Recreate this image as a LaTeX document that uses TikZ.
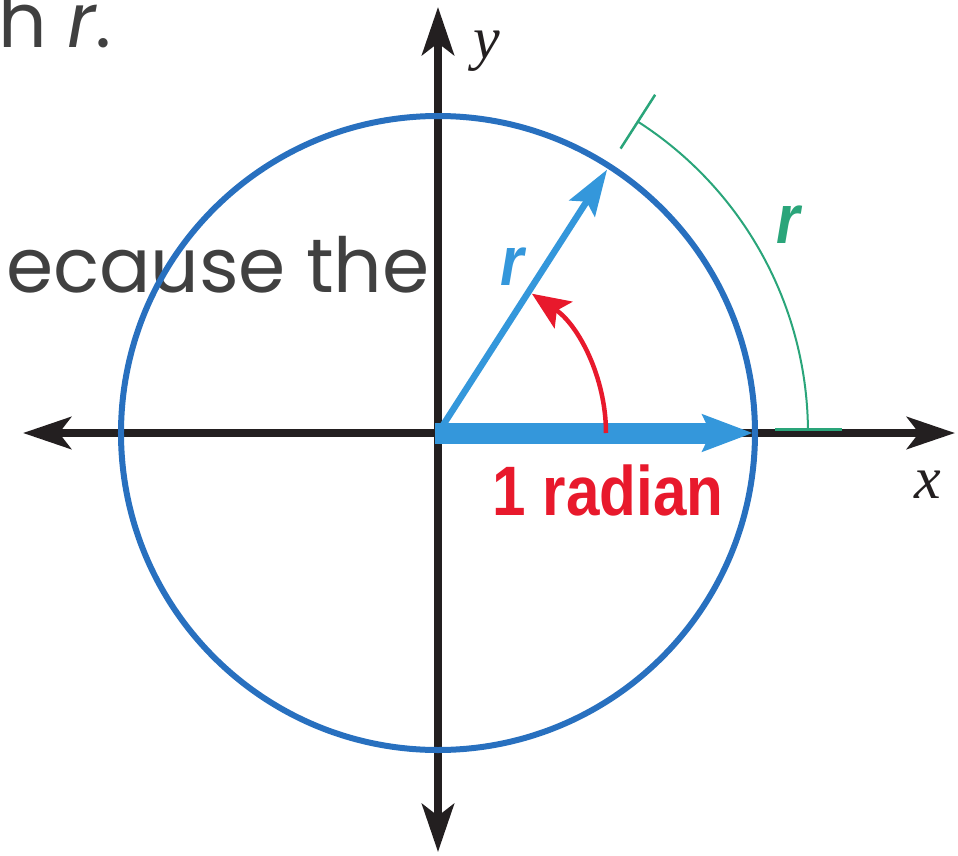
\documentclass[tikz,border=0pt]{standalone}
\usepackage{fontspec}
\usetikzlibrary{arrows.meta}

\newfontfamily\slidefont{Poppins}
\newfontfamily\labelfont[FakeStretch=0.86]{Liberation Sans}
\newfontfamily\axisfont{Liberation Serif}

\definecolor{circblue}{HTML}{2870BF}
\definecolor{rayblue}{HTML}{3497DB}
\definecolor{angred}{HTML}{E8192C}
\definecolor{arcgreen}{HTML}{2AA57A}
\definecolor{axisblack}{HTML}{231F20}
\definecolor{slidegray}{HTML}{404040}

\newcommand*{\rad}{317}
\newcommand*{\ang}{57.3}
\newcommand*{\xmin}{-415}
\newcommand*{\xmax}{517}
\newcommand*{\ymin}{-419}
\newcommand*{\ymax}{426}

\begin{document}
\begin{tikzpicture}
[
	x=1pt,y=1pt,
	axis/.style={line width=8pt,axisblack,{Stealth[length=48pt,width=32pt,inset=12pt]}-{Stealth[length=48pt,width=32pt,inset=12pt]}},
	ray/.style={rayblue,-{Stealth[length=46pt,width=30pt,inset=8pt]}},
	slidetext/.style={slidegray,inner sep=0pt,font=\slidefont\fontsize{76}{90}\selectfont},
	rlabel/.style={inner sep=0pt,font=\labelfont\bfseries\itshape\fontsize{70}{84}\selectfont},
	axislabel/.style={axisblack,inner sep=0pt,font=\axisfont\itshape\fontsize{60}{72}\selectfont}
]
	\useasboundingbox (-438,-422) rectangle (520,433);

	% text of the slide behind
	\node[slidetext,anchor=base east] (line1) at (-326,385) {h \textit{r}.};
	\node[slidetext,anchor=base east] (line2) at (-8,141) {ecause the};

	% axes
	\coordinate (O) at (0,0);
	\coordinate (xl) at (\xmin,0);
	\coordinate (xr) at (\xmax,0);
	\coordinate (yb) at (0,\ymin);
	\coordinate (yt) at (0,\ymax);
	\draw[axis] (xl) -- (xr);
	\draw[axis] (yb) -- (yt);
	\node[axislabel] (xlab) at (490,-52) {x};
	\node[axislabel] (ylab) at (49,382) {y};

	% radius on the x-axis and the turned radius
	\coordinate (O2) at (-3,0);
	\coordinate (A) at (315,0);
	\coordinate (P) at (\ang:313);
	\draw[ray,line width=21pt,-{Stealth[length=50pt,width=36pt,inset=8pt]}] (O2) -- (A);
	\draw[ray,line width=6.5pt] (O) -- (P);
	\node[rlabel,rayblue] (r1) at (74,166) {r};

	% circle
	\draw[circblue,line width=6pt] (O) circle (\rad);

	% angle of 1 radian
	\coordinate (a0) at (168,0);
	\draw[angred,line width=4.5pt,-{Stealth[length=38pt,width=32pt,inset=8pt]}] (a0) arc (0:56:168);
	\node[angred,inner sep=0pt,anchor=base,font=\labelfont\bfseries\fontsize{70}{84}\selectfont] (radlab) at (170,-82) {1 radian};

	% arc of length r
	\coordinate (g0) at (0.8:370);
	\coordinate (t1) at (\ang:338);
	\coordinate (t2) at (\ang:402);
	\coordinate (b1) at (337,4);
	\coordinate (b2) at (404,4);
	\draw[arcgreen,line width=2pt] (g0) arc (0.8:\ang:370);
	\draw[arcgreen,line width=2.5pt] (t1) -- (t2);
	\draw[arcgreen,line width=3pt] (b1) -- (b2);
	\node[rlabel,arcgreen] (r2) at (350,208) {r};

\end{tikzpicture}
\end{document}
